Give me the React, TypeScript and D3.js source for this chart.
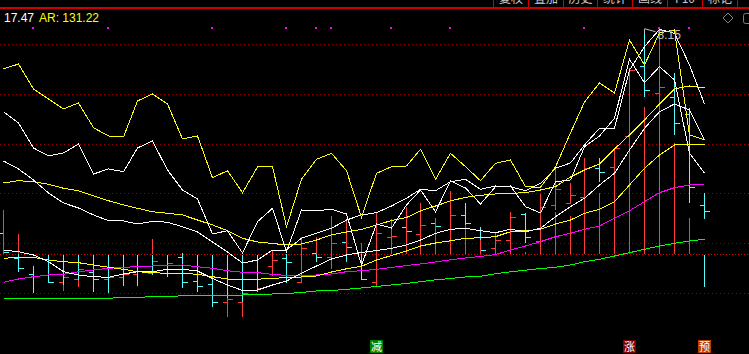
import React from "react";
import * as d3 from "d3";

const W = 749;
const H = 354;

// ---- price bars (OHLC) ----
const opens = [
  6.12, 5.873, 5.71, 5.7, 5.627, 5.66, 5.73, 5.657, 5.68, 5.71,
  5.723, 5.757, 5.883, 5.64, 5.607, 5.427, 5.427, 5.55, 5.79, 5.87,
  5.627, 5.923, 5.877, 6.033, 5.933, 5.627, 6.077, 6.177, 6.11, 6.217,
  6.043, 6.3, 6.15, 5.967, 6.05, 6.31, 6.043, 6.4, 6.42, 6.483,
  6.767, 6.783, 7.093, 7.79, 7.523, 7.477, 7.307, 6.397,
];
const highs = [
  6.16, 5.95, 5.79, 5.75, 5.73, 5.79, 5.77, 5.72, 5.74, 5.77,
  5.9, 5.85, 5.917, 5.7, 5.65, 5.55, 5.57, 5.61, 5.943, 5.91,
  6.077, 5.95, 6.29, 6.1, 5.98, 6.323, 6.257, 6.21, 6.42, 6.25,
  6.543, 6.42, 6.183, 6.133, 6.333, 6.323, 6.51, 6.783, 6.617, 6.867,
  6.867, 6.967, 7.767, 8.133, 8.15, 7.723, 7.367, 6.517,
];
const lows = [
  5.92, 5.733, 5.52, 5.617, 5.543, 5.583, 5.533, 5.62, 5.65, 5.67,
  5.7, 5.73, 5.57, 5.533, 5.383, 5.28, 5.283, 5.53, 5.69, 5.617,
  5.617, 5.833, 5.76, 5.833, 5.65, 5.577, 6.0, 6.11, 6.05, 6.15,
  6.0, 6.2, 5.93, 5.93, 6.0, 6.023, 6.0, 6.35, 6.41, 6.45,
  6.633, 6.75, 7.05, 7.483, 7.47, 7.1, 6.417, 6.257,
];
const closes = [
  5.93, 5.767, 5.69, 5.633, 5.677, 5.757, 5.657, 5.683, 5.71, 5.743,
  5.843, 5.817, 5.63, 5.595, 5.427, 5.457, 5.523, 5.567, 5.85, 5.83,
  5.967, 5.883, 6.023, 5.983, 5.657, 6.117, 6.087, 6.143, 6.2, 6.19,
  6.3, 6.217, 5.95, 6.05, 6.277, 6.077, 6.377, 6.557, 6.497, 6.767,
  6.727, 6.967, 7.75, 7.547, 7.577, 7.217, 6.583, 6.337,
];

// ---- moving averages of price ----
const ma5 = [
  5.95, 5.933, 5.9, 5.833, 5.733, 5.7, 5.683, 5.677, 5.71, 5.733,
  5.733, 5.757, 5.757, 5.74, 5.665, 5.6, 5.545, 5.55, 5.6, 5.64,
  5.717, 5.79, 5.86, 5.9, 5.925, 5.945, 5.967, 6.0, 6.05, 6.117,
  6.157, 6.167, 6.143, 6.123, 6.157, 6.133, 6.167, 6.283, 6.383, 6.467,
  6.6, 6.717, 6.95, 7.167, 7.333, 7.41, 7.35, 7.05,
];
const ma10 = [
  5.867, 5.877, 5.877, 5.85, 5.833, 5.823, 5.8, 5.777, 5.757, 5.733,
  5.723, 5.717, 5.717, 5.707, 5.683, 5.66, 5.657, 5.658, 5.667, 5.673,
  5.68, 5.69, 5.73, 5.762, 5.787, 5.85, 5.895, 5.94, 5.99, 6.02,
  6.042, 6.067, 6.072, 6.083, 6.133, 6.143, 6.157, 6.21, 6.25, 6.317,
  6.357, 6.433, 6.6, 6.767, 6.9, 7.0, 7.01, 7.0,
];
const ma20 = [
  5.627, 5.66, 5.683, 5.7, 5.707, 5.733, 5.75, 5.767, 5.777, 5.783,
  5.79, 5.797, 5.8, 5.783, 5.767, 5.743, 5.727, 5.725, 5.705, 5.697,
  5.697, 5.7, 5.71, 5.733, 5.743, 5.757, 5.775, 5.795, 5.81, 5.83,
  5.852, 5.87, 5.885, 5.905, 5.95, 5.99, 6.033, 6.083, 6.117, 6.157,
  6.19, 6.267, 6.343, 6.433, 6.523, 6.573, 6.6, 6.61,
];
const ma60 = [
  5.467, 5.467, 5.467, 5.467, 5.467, 5.467, 5.467, 5.467, 5.477, 5.477,
  5.483, 5.483, 5.493, 5.493, 5.493, 5.497, 5.5, 5.505, 5.51, 5.515,
  5.525, 5.54, 5.545, 5.557, 5.57, 5.585, 5.6, 5.615, 5.633, 5.652,
  5.665, 5.68, 5.688, 5.712, 5.732, 5.748, 5.765, 5.777, 5.8, 5.833,
  5.857, 5.89, 5.923, 5.957, 5.99, 6.017, 6.04, 6.057,
];

// ---- AR / BR indicator ----
const ar = [
  212.8, 218.5, 189.8, 178.3, 166.8, 173.7, 145.2, 135.7, 134.6, 176,
  184, 172.5, 132.3, 135.7, 87.7, 95.8, 70.5, 100.1, 100.4, 31.4,
  85.9, 108.9, 115.8, 95.8, 42.2, 92.8, 100.4, 101.2, 120.4, 85.9,
  115.8, 100.4, 84.3, 104.3, 108.1, 77.4, 76.7, 100.1, 139.2, 174.8,
  196.7, 185.2, 246.1, 217.4, 254.2, 257.6, 136.9, 131.22,
];
const br = [
  163.6, 150.7, 121.9, 112.7, 116.2, 126.5, 92, 97.8, 94.6, 121.9,
  130, 96.6, 73.6, 63.3, 23, 26.8, 1.2, 37.1, 52.6, 2.6,
  50.6, 49.8, 51.4, 46, -12.7, 34.5, 29.9, 56.4, 73.6, 48.6,
  84, 75.9, 57.5, 77.4, 78.2, 54.4, 47.2, 83.1, 85.1, 123.4,
  135.7, 156.1, 223.9, 197, 215.4, 200.1, 115.8, 92.8,
];
const arAvg = [
  81.7, 84.3, 83.1, 80.2, 75.6, 72.8, 67, 61.3, 56.4, 52.6,
  48.6, 46.8, 44.9, 39.1, 33.4, 26.8, 18.1, 13.8, 12.1, 10.4,
  11.5, 16.1, 21.9, 25.3, 28.2, 33.4, 38.5, 42, 49.5, 55.2,
  61, 65.2, 67.5, 69, 69.8, 70.5, 73.6, 77.4, 88.6, 96.6,
  103.5, 120.8, 136.9, 154.1, 172.5, 189.8, 193.2, 190.9,
];
const brAvg = [
  107, 97.8, 85.1, 70.2, 58.7, 52.9, 44.9, 38.3, 38, 34.5,
  37.6, 36.5, 31.4, 25.3, 13.8, 2.3, -10.4, -6.9, 4.6, 4.6,
  18.1, 23.8, 29.6, 39.1, 44.9, 47.5, 55.2, 64.1, 74.4, 72.8,
  83.1, 85.9, 74.4, 78.2, 77.4, 72.8, 81.3, 98.6, 104.7, 125.4,
  144.6, 144.6, 211.6, 238.4, 258.4, 253.8, 217.4, 172.5,
];
const stickUp = [
  50.6, 23, 0, 0, 0, 0, 0, 0, 0, 0,
  16.9, 0, 0, 0, 0, 0, 0, 0, 0, 0,
  0, 19.6, 0, 39.1, 12.7, 0, 21.9, 54, 27.6, 41.4,
  21.9, 33.4, 16.1, 4.6, 16.1, 2.3, 16.1, 48.3, 43.7, 62.1,
  69.8, 96.6, 131.1, 168.7, 179.4, 127.3, 41.1, 0,
];
const stickDown = [
  0, 0, 0, -33.7, -35.7, -29.9, -35.7, -45.2, -36.8, -36.8,
  -24.2, -26.1, -29.9, -43.4, -52.9, -50.9, -55.2, -43.4, 0, -33.7,
  0, 0, 0, 0, 0, 0, 0, 0, 0, 0,
  0, 0, 0, 0, 0, 0, 0, 0, 0, 0,
  0, 0, 0, 0, 0, 0, 0, -37.6,
];

// ---- markers & labels ----
const signalBars = [2, 7, 14, 19, 21, 22, 26, 30, 39, 44, 46];
const eventBars = [25, 42, 47];
const eventLabels = ["减", "涨", "预"];
const toolbarLabels = ["复权", "叠加", "历史", "统计", "画线", "F10", "标记"];
const headerValue = "17.47";
const arLabel = "AR: 131.22";
const maxBar = 43;
const maxLabel = "8.15";

const RED = "#ff3c3c";
const CYAN = "#54fcfc";
const EVENT_COLORS = ["#008000", "#800000", "#b84000"];
const UI_FONT = "'Liberation Sans', Arial, sans-serif";
const CJK_FONT = "'Noto Sans CJK SC', sans-serif";

export default function App() {
  const n = opens.length;
  const x = d3.scaleLinear().domain([0, n - 1]).range([3.3, 703.6]);
  const yP = d3.scaleLinear().domain([5, 8.45]).range([345, 0]);
  const yI = d3.scaleLinear().domain([0, 115]).range([254, 154]);
  const px = (i: number) => Math.round(x(i)) + 0.5;
  const py = (v: number) => Math.round(yP(v)) + 0.5;
  const iy = (v: number) => Math.round(yI(v)) + 0.5;

  const lineP = d3
    .line<number>()
    .x((_, i) => px(i))
    .y((d) => yP(d));
  const lineI = d3
    .line<number>()
    .x((_, i) => px(i))
    .y((d) => yI(d));

  const gridYs = d3.range(6).map((k) => Math.round(44 + k * 49.8) + 0.5);
  const sepXs = d3.range(8).map((k) => Math.round(492.7 + k * 34.9) + 0.5);

  return (
    <svg
      width={W}
      height={H}
      viewBox={`0 0 ${W} ${H}`}
      style={{ position: "fixed", left: 0, top: 0, background: "#000", display: "block" }}
    >
      <rect x={0} y={0} width={W} height={H} fill="#000" />

      {/* toolbar (clipped at the top edge, as in the source) */}
      {toolbarLabels.map((t, k) => (
        <text
          key={t}
          x={(sepXs[k] + sepXs[k + 1]) / 2}
          y={3}
          textAnchor="middle"
          fontFamily={CJK_FONT}
          fontSize={12}
          fill="#c8c8c8"
        >
          {t}
        </text>
      ))}
      {sepXs.map((sx, k) => (
        <line key={k} x1={sx} x2={sx} y1={0} y2={8} stroke="#d00000" strokeWidth={1} />
      ))}
      <rect x={0} y={7} width={W} height={2} fill="#d00000" />

      {/* header texts */}
      <text x={4} y={22} fontFamily={UI_FONT} fontSize={12} fill="#ffffff">
        {headerValue}
      </text>
      <text x={39} y={22} fontFamily={UI_FONT} fontSize={12} fill="#ffff00">
        {arLabel}
      </text>
      <path d="M728 13 L733 18 L728 23 L723 18 Z" fill="none" stroke="#808080" strokeWidth={1} />
      <rect x={743.5} y={13.5} width={10} height={10} rx={2} fill="none" stroke="#808080" />

      {/* grid */}
      {gridYs.map((gy, k) => (
        <line
          key={k}
          x1={0}
          x2={W}
          y1={gy}
          y2={gy}
          stroke="#a00000"
          strokeDasharray="1 3"
          shapeRendering="crispEdges"
        />
      ))}
      <line
        x1={0}
        x2={W}
        y1={iy(0)}
        y2={iy(0)}
        stroke="#e00000"
        strokeDasharray="1 2"
        shapeRendering="crispEdges"
      />

      {/* signal dots */}
      {signalBars.map((i) => (
        <rect key={i} x={Math.round(x(i)) - 1} y={27} width={2} height={2} fill="#ff00ff" />
      ))}

      {/* price bars */}
      <g shapeRendering="crispEdges">
        {opens.map((o, i) => {
          const c = closes[i];
          const col = c >= o ? RED : CYAN;
          const cx = px(i);
          return (
            <g key={i} stroke={col}>
              <line x1={cx} x2={cx} y1={yP(highs[i])} y2={yP(lows[i])} />
              <line x1={cx - 5} x2={cx} y1={py(o)} y2={py(o)} />
              <line x1={cx} x2={cx + 5} y1={py(c)} y2={py(c)} />
            </g>
          );
        })}
      </g>

      {/* AR sticks */}
      <g shapeRendering="crispEdges">
        {stickUp.map((v, i) =>
          v > 0 ? (
            <line key={"u" + i} x1={px(i)} x2={px(i)} y1={yI(0)} y2={yI(v)} stroke={RED} />
          ) : null
        )}
        {stickDown.map((v, i) =>
          v < 0 ? (
            <line key={"d" + i} x1={px(i)} x2={px(i)} y1={yI(0) + 1} y2={yI(v)} stroke={CYAN} />
          ) : null
        )}
      </g>

      {/* moving averages and indicator lines */}
      <g fill="none" strokeWidth={1} shapeRendering="crispEdges">
        <path d={lineP(ma60) || ""} stroke="#00ff00" />
        <path d={lineP(ma20) || ""} stroke="#ff00ff" />
        <path d={lineP(ma10) || ""} stroke="#ffff00" />
        <path d={lineP(ma5) || ""} stroke="#ffffff" />
        <path d={lineI(arAvg) || ""} stroke="#ffff00" />
        <path d={lineI(brAvg) || ""} stroke="#ffffff" />
        <path d={lineI(br) || ""} stroke="#ffffff" />
        <path d={lineI(ar) || ""} stroke="#ffff00" />
      </g>

      {/* max price marker */}
      <g>
        <line
          x1={px(maxBar)}
          x2={px(maxBar)}
          y1={yP(highs[maxBar]) - 3}
          y2={yP(highs[maxBar]) + 2}
          stroke="#c0c0c0"
          shapeRendering="crispEdges"
        />
        <line
          x1={px(maxBar)}
          x2={px(maxBar) + 11}
          y1={yP(highs[maxBar]) - 3}
          y2={yP(highs[maxBar])}
          stroke="#c0c0c0"
        />
        <text
          x={px(maxBar) + 13}
          y={yP(highs[maxBar]) + 7}
          fontFamily={UI_FONT}
          fontSize={12}
          fill="#c0c0c0"
        >
          {maxLabel}
        </text>
      </g>

      {/* event markers */}
      {eventBars.map((i, k) => (
        <g key={i}>
          <rect x={Math.round(x(i)) - 6} y={340} width={13} height={13} fill={EVENT_COLORS[k]} />
          <text
            x={Math.round(x(i)) + 0.5}
            y={351}
            textAnchor="middle"
            fontFamily={CJK_FONT}
            fontSize={11}
            fill="#ffffff"
          >
            {eventLabels[k]}
          </text>
        </g>
      ))}
    </svg>
  );
}
